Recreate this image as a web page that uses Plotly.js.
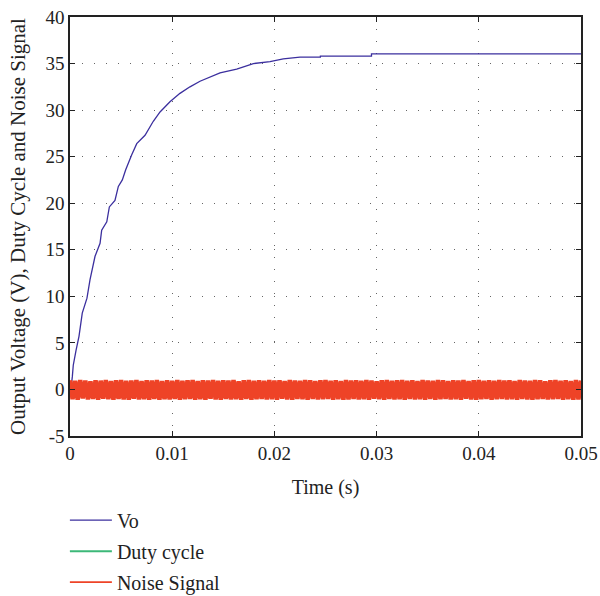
<!DOCTYPE html>
<html>
<head>
<meta charset="utf-8">
<script src="https://cdn.plot.ly/plotly-3.0.1.min.js"></script>
<style>html,body{margin:0;padding:0;background:#fff;}#chart{width:600px;height:596px;}</style>
</head>
<body>
<div id="chart"></div>
<script>
// Output voltage Vo
const voTime = [0, 0.00012, 0.00023, 0.00032, 0.00059, 0.00088, 0.0012, 0.00166, 0.00196, 0.00245,
  0.00294, 0.0031, 0.0036, 0.00385, 0.0044, 0.00473, 0.00512, 0.00545, 0.00604, 0.00653,
  0.00734, 0.00815, 0.00881, 0.00978, 0.01076, 0.01174, 0.01272, 0.01468, 0.01631, 0.01794,
  0.01957, 0.02087, 0.0225, 0.0245, 0.0245, 0.0295, 0.0295, 0.05];
const voValues = [0, 0.3, 1.4, 2.6, 4.2, 5.7, 8.2, 9.8, 11.8, 14.3,
  15.7, 17.1, 18.0, 19.6, 20.3, 21.8, 22.5, 23.6, 25.2, 26.4,
  27.3, 28.8, 29.8, 30.9, 31.8, 32.5, 33.1, 34.0, 34.4, 35.0,
  35.2, 35.5, 35.7, 35.7, 35.8, 35.8, 36.05, 36.05];

// Duty cycle (hidden beneath the noise band)
const dutyTime = [0, 0.05];
const dutyValues = [0.5, 0.5];

// Noise signal samples
const noiseStart = 0, noiseStep = 0.00025;
const noiseValues = [
  0.98,-1.05,0.92,-1.10,1.00,-0.97,0.95,-1.08,0.88,-1.02,
  0.99,-1.10,0.94,-1.00,1.01,-1.06,0.90,-1.09,0.97,-1.03,
  1.00,-1.08,0.93,-1.11,0.96,-0.99,1.00,-1.07,0.91,-1.04,
  0.98,-1.10,0.95,-1.02,1.01,-1.09,0.89,-1.05,0.99,-1.08,
  0.94,-1.01,1.00,-1.10,0.92,-1.06,0.97,-1.03,1.01,-1.09,
  0.90,-1.04,0.98,-1.11,0.95,-1.00,1.00,-1.07,0.93,-1.10,
  0.99,-1.02,0.96,-1.08,1.01,-1.05,0.88,-1.09,0.97,-1.01,
  1.00,-1.10,0.94,-1.06,0.99,-1.03,0.92,-1.08,1.01,-1.04,
  0.95,-1.11,0.98,-1.00,0.90,-1.07,1.00,-1.09,0.96,-1.02,
  0.93,-1.05,1.01,-1.10,0.97,-1.03,0.89,-1.08,0.99,-1.06,
  1.00,-1.01,0.94,-1.09,0.98,-1.04,0.91,-1.10,1.01,-1.07,
  0.96,-1.02,0.99,-1.08,0.93,-1.05,1.00,-1.11,0.95,-1.00,
  0.88,-1.06,0.98,-1.09,1.01,-1.03,0.92,-1.08,0.97,-1.04,
  1.00,-1.10,0.94,-1.01,0.99,-1.07,0.90,-1.05,1.01,-1.09,
  0.96,-1.02,0.93,-1.10,1.00,-1.06,0.98,-1.03,0.91,-1.08,
  0.99,-1.04,0.95,-1.11,1.01,-1.00,0.89,-1.07,0.97,-1.09,
  1.00,-1.05,0.94,-1.02,0.98,-1.10,0.92,-1.06,1.01,-1.03,
  0.96,-1.08,0.99,-1.04,0.90,-1.09,1.00,-1.01,0.95,-1.07,
  0.93,-1.10,1.01,-1.05,0.97,-1.02,0.88,-1.08,0.99,-1.06,
  1.00,-1.03,0.94,-1.09,0.98,-1.04,0.91,-1.10,1.01,-1.07,
  0.96
];
const noiseTime = noiseValues.map((v, i) => noiseStart + i * noiseStep);

// Axis ticks
const xTicks = [0, 0.01, 0.02, 0.03, 0.04, 0.05];
const xTickText = ['0', '0.01', '0.02', '0.03', '0.04', '0.05'];
const yTicks = [-5, 0, 5, 10, 15, 20, 25, 30, 35, 40];
const yTickText = ['-5', '0', '5', '10', '15', '20', '25', '30', '35', '40'];

const FONT = 'Liberation Serif, Times New Roman, serif';
const NOISE_COLOR = '#ee4327';

const traces = [
  {x: voTime, y: voValues, type: 'scatter', mode: 'lines', name: 'Vo',
   line: {color: '#3b2f9e', width: 1.3}, legendgroup: 'a'},
  {x: dutyTime, y: dutyValues, type: 'scatter', mode: 'lines', name: 'Duty cycle',
   line: {color: '#3cb878', width: 2}, legendgroup: 'b'},
  {x: noiseTime, y: noiseValues, type: 'scatter', mode: 'lines', name: 'Noise Signal',
   line: {color: NOISE_COLOR, width: 4.5}, legendgroup: 'c', showlegend: false},
  // legend entry for the noise with a normal line width
  {x: [null], y: [null], type: 'scatter', mode: 'lines', name: 'Noise Signal',
   line: {color: NOISE_COLOR, width: 1.6}, legendgroup: 'c', showlegend: true}
];

const axisCommon = {
  showline: true, linecolor: '#222', linewidth: 1.6, mirror: 'ticks',
  ticks: 'inside', ticklen: 5, tickcolor: '#222', tickwidth: 1,
  showgrid: true, gridcolor: '#666', gridwidth: 1, griddash: '1px,11px',
  zeroline: false, automargin: false,
  tickfont: {family: FONT, size: 19, color: '#222'}
};

const layout = {
  width: 600, height: 596,
  margin: {l: 70, r: 19, t: 17, b: 160},
  paper_bgcolor: '#fff', plot_bgcolor: '#fff',
  font: {family: FONT, color: '#222'},
  xaxis: Object.assign({}, axisCommon, {
    range: [0, 0.05], tickvals: xTicks, ticktext: xTickText,
    title: {text: 'Time (s)', font: {family: FONT, size: 20, color: '#222'}, standoff: 16}
  }),
  yaxis: Object.assign({}, axisCommon, {
    range: [-5, 40], tickvals: yTicks, ticktext: yTickText,
    title: {text: 'Output Voltage (V), Duty Cycle and Noise Signal', font: {family: FONT, size: 21, color: '#222'}, standoff: 14}
  }),
  showlegend: true,
  legend: {
    x: -0.01, xanchor: 'left', y: 0.16, yref: 'container', yanchor: 'top', orientation: 'v',
    font: {family: FONT, size: 20, color: '#222'}, tracegroupgap: 2,
    bgcolor: 'rgba(0,0,0,0)', itemwidth: 42
  }
};

Plotly.newPlot('chart', traces, layout, {displayModeBar: false, staticPlot: true});
</script>
</body>
</html>
